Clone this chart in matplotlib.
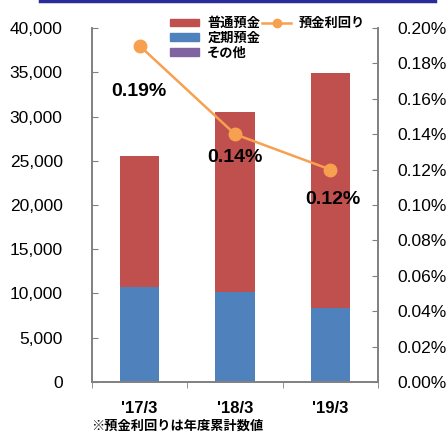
import matplotlib.pyplot as plt
from matplotlib.lines import Line2D
from matplotlib.patches import Patch

plt.rcParams['font.family'] = ['Liberation Sans', 'Noto Sans CJK JP']

# deposit balances (millions of yen) and yield
periods = ["'17/3", "'18/3", "'19/3"]
ordinary = [14850, 20350, 26500]
time_dep = [10700, 10150, 8400]
other = [30, 30, 40]
yield_pct = [0.19, 0.14, 0.12]
yield_labels = ["0.19%", "0.14%", "0.12%"]

red = '#C0504D'
blue = '#4F81BD'
purple = '#8064A2'
orange = '#F7A050'
grey = '#808080'

fig = plt.figure(figsize=(4.46, 4.32), dpi=100)
ax = fig.add_axes([0.206, 0.116, 0.642, 0.819])
ax2 = ax.twinx()

x = range(len(periods))
w = 0.41
ax.bar(x, time_dep, w, color=blue, zorder=2)
ax.bar(x, ordinary, w, bottom=time_dep, color=red, zorder=2)
bottom_other = [a + b for a, b in zip(time_dep, ordinary)]
ax.bar(x, other, w, bottom=bottom_other, color=purple, zorder=2)

ax2.plot(x, yield_pct, color=orange, lw=1.8, marker='o', ms=9, zorder=3)
# value labels sit just below each point
offsets = [(-0.01, -0.026), (0.0, -0.013), (0.02, -0.017)]
for i, (lab, (dx, dy)) in enumerate(zip(yield_labels, offsets)):
    ax2.text(i + dx, yield_pct[i] + dy, lab, ha='center', va='center',
             fontsize=14, fontweight='bold', color='black', zorder=4)

ax.set_xlim(-0.5, 2.5)
ax.set_ylim(0, 40000)
ax2.set_ylim(0, 0.20)
ax.set_yticks(range(0, 40001, 5000))
ax.set_yticklabels([f'{v:,}' for v in range(0, 40001, 5000)], fontsize=12.5)
ax2.set_yticks([i * 0.02 for i in range(11)])
ax2.set_yticklabels([f'{i * 0.02:.2f}%' for i in range(11)], fontsize=12.5)

ax.set_xticks(list(x))
ax.set_xticklabels(periods, fontsize=12, fontweight='bold')
ax.set_xticks([-0.5, 0.5, 1.5, 2.5], minor=True)
ax.tick_params(axis='x', which='major', length=0, pad=14)
ax.tick_params(axis='x', which='minor', length=4, direction='out', color=grey)
ax.tick_params(axis='y', direction='in', length=4, color=grey, pad=21)
ax2.tick_params(axis='y', direction='in', length=4, color=grey, pad=14)

for a in (ax, ax2):
    a.spines['top'].set_visible(False)
    for s in ('left', 'right', 'bottom'):
        a.spines[s].set_color(grey)
        a.spines[s].set_linewidth(1.2)

blank = Patch(alpha=0)
handles = [Patch(color=red), Patch(color=blue), Patch(color=purple),
           Line2D([], [], color=orange, lw=1.8, marker='o', ms=6), blank, blank]
labels = ['普通預金', '定期預金', 'その他', '預金利回り', '', '']
fig.legend(handles, labels, ncol=2, loc='upper left', bbox_to_anchor=(0.37, 0.972),
           frameon=False, handlelength=2.2, handleheight=0.5,
           labelspacing=0.2, columnspacing=0.15, handletextpad=0.6,
           borderaxespad=0, prop={'weight': 'bold', 'size': 9.5})

fig.add_artist(Line2D([0.09, 0.975], [0.997, 0.997], color='#2B2B9A', lw=2.5,
                      transform=fig.transFigure))

fig.text(0.205, 0.006, '※預金利回りは年度累計数値', fontsize=9.5, fontweight='bold')

fig.savefig('out.png', dpi=100)
